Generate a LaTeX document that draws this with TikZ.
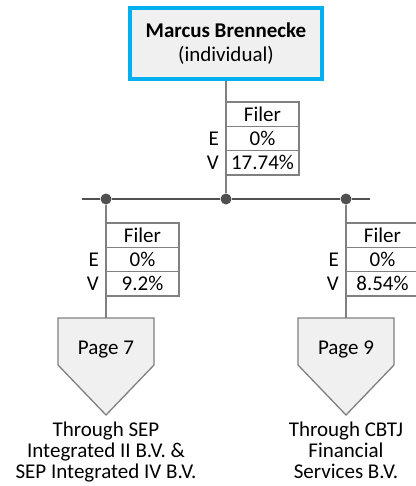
\documentclass[tikz,border=0pt]{standalone}
\usepackage{fontspec}
\setmainfont{Carlito}
\usetikzlibrary{positioning}
\definecolor{boxblue}{RGB}{0,176,240}
\definecolor{linegray}{RGB}{128,128,128}
\definecolor{busgray}{RGB}{80,80,80}
\definecolor{fillgray}{RGB}{240,240,240}
\tikzset{
  cell/.style={draw=linegray,line width=1.3pt,minimum width=73pt,minimum height=24.3pt,inner sep=0pt,outer sep=0pt},
  rowlabel/.style={inner sep=1pt},
  joint/.style={circle,fill=busgray,minimum size=11pt,inner sep=0pt},
  link/.style={draw=linegray,line width=1.5pt},
  bus/.style={draw=busgray,line width=2.5pt},
  pagebox/.style={draw=linegray,line width=1.3pt,fill=fillgray},
  caption/.style={anchor=north,align=center,inner sep=0pt,font=\fontsize{21}{20.7}\selectfont}
}
\begin{document}
\begin{tikzpicture}[x=1pt,y=-1pt,font=\fontsize{21}{23.5}\selectfont]
\useasboundingbox (0,0) rectangle (415,486);
% owner
\node[draw=boxblue,line width=4pt,fill=fillgray,minimum width=192pt,minimum height=71pt,align=center,inner sep=0pt] (owner) at (226,43.5) {\textbf{Marcus Brennecke}\\(individual)};

% joints on the bus
\node[joint] (jl) at (106,199) {};
\node[joint] (jm) at (226,199) {};
\node[joint] (jr) at (346,199) {};
\coordinate (busl) at (82,199);
\coordinate (busr) at (370,199);
\draw[bus] (busl) -- (jl) -- (jm) -- (jr) -- (busr);
\draw[link] (owner) -- (jm);

% page boxes
\coordinate (p7) at (106,318);
\coordinate (p9) at (346,318);
\draw[link] (jl) -- (p7);
\draw[link] (jr) -- (p9);
\draw[pagebox] (p7) ++(-48,0) -- ++(96,0) -- ++(0,47) -- ++(-48,50) -- ++(-48,-50) -- cycle;
\draw[pagebox] (p9) ++(-48,0) -- ++(96,0) -- ++(0,47) -- ++(-48,50) -- ++(-48,-50) -- cycle;
\node[anchor=base] (page7) at (106,354) {Page 7};
\node[anchor=base] (page9) at (346,354) {Page 9};

% top table
\node[cell,anchor=north west] (tf) at (226,102) {Filer};
\node[cell,below=0pt of tf] (te) {0\%};
\node[cell,below=0pt of te] (tv) {17.74\%};
\node[rowlabel,left=6pt of te] {E};
\node[rowlabel,left=6pt of tv] {V};

% left table
\node[cell,anchor=north west] (lf) at (106,223) {Filer};
\node[cell,below=0pt of lf] (le) {0\%};
\node[cell,below=0pt of le] (lv) {9.2\%};
\node[rowlabel,left=6pt of le] {E};
\node[rowlabel,left=6pt of lv] {V};

% right table
\node[cell,anchor=north west] (rf) at (346,223) {Filer};
\node[cell,below=0pt of rf] (re) {0\%};
\node[cell,below=0pt of re] (rv) {8.54\%};
\node[rowlabel,left=6pt of re] {E};
\node[rowlabel,left=6pt of rv] {V};

% captions
\node[caption] (sep) at (106,422) {Through SEP\\Integrated II B.V. \&\\SEP Integrated IV B.V.};
\node[caption] (cbtj) at (346,422) {Through CBTJ\\Financial\\Services B.V.};
\end{tikzpicture}
\end{document}
